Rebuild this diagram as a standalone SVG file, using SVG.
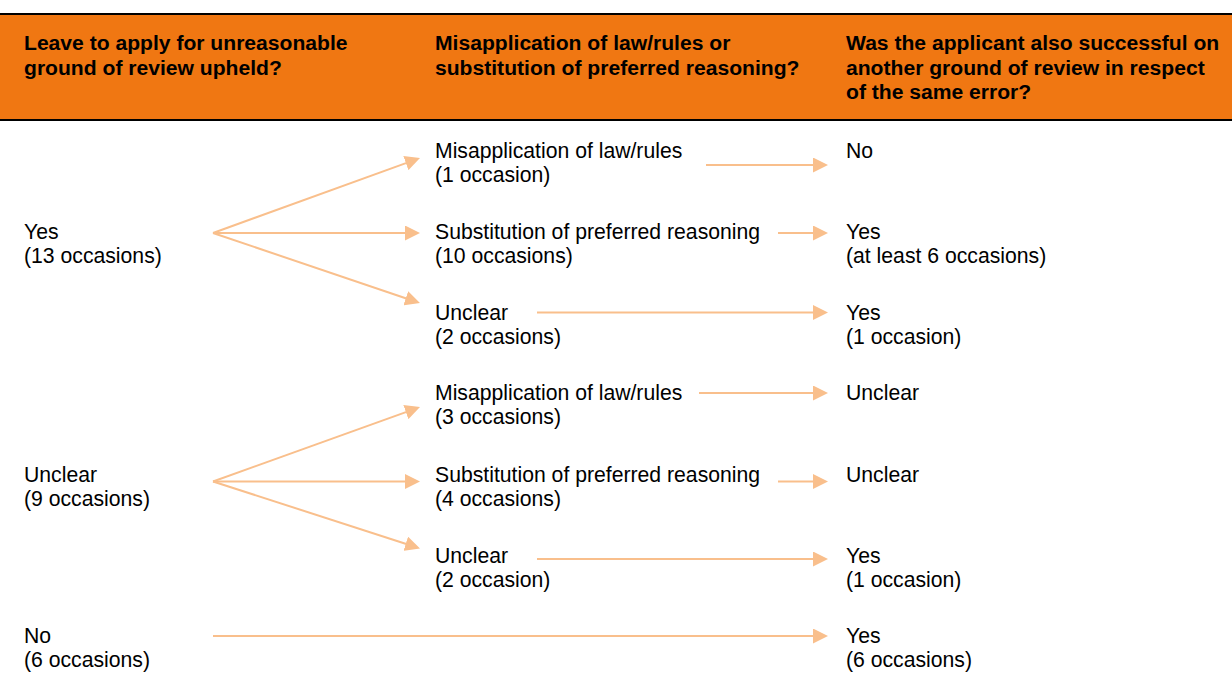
<svg xmlns="http://www.w3.org/2000/svg" width="1232" height="681" viewBox="0 0 1232 681">
  <style>
    .hdr { font-family: "Liberation Sans", Arial, sans-serif; font-size: 21.1px; font-weight: bold; fill: #000; }
    .lbl { font-family: "Liberation Sans", Arial, sans-serif; font-size: 21.2px; fill: #000; }
    .link { stroke: #F9BF8C; stroke-width: 2; fill: none; marker-end: url(#arrow); }
  </style>
  <defs>
    <marker id="arrow" markerUnits="userSpaceOnUse" viewBox="0 0 15 15" markerWidth="15" markerHeight="15" refX="3" refY="7.5" orient="auto">
      <path d="M0,0 L15,7.5 L0,15 z" fill="#F9BF8C"/>
    </marker>
  </defs>

  <rect width="1232" height="681" fill="#fff"/>

  <!-- header band -->
  <g id="header">
    <rect x="0" y="14" width="1232" height="106" fill="#F07712"/>
    <line x1="0" y1="14" x2="1232" y2="14" stroke="#000" stroke-width="2"/>
    <line x1="0" y1="120" x2="1232" y2="120" stroke="#000" stroke-width="2"/>
    <text class="hdr" x="24" y="50">Leave to apply for unreasonable</text>
    <text class="hdr" x="24" y="74.5">ground of review upheld?</text>
    <text class="hdr" x="435" y="50">Misapplication of law/rules or</text>
    <text class="hdr" x="435" y="74.5">substitution of preferred reasoning?</text>
    <text class="hdr" x="846" y="50">Was the applicant also successful on</text>
    <text class="hdr" x="846" y="74.5">another ground of review in respect</text>
    <text class="hdr" x="846" y="99">of the same error?</text>
  </g>

  <!-- column 1 -->
  <g id="leave-yes"><text class="lbl" x="24" y="239">Yes</text><text class="lbl" x="24" y="263">(13 occasions)</text></g>
  <g id="leave-unclear"><text class="lbl" x="24" y="481.5">Unclear</text><text class="lbl" x="24" y="505.5">(9 occasions)</text></g>
  <g id="leave-no"><text class="lbl" x="24" y="643">No</text><text class="lbl" x="24" y="667">(6 occasions)</text></g>

  <!-- column 2 -->
  <g id="yes-misapp"><text class="lbl" x="435" y="158">Misapplication of law/rules</text><text class="lbl" x="435" y="182">(1 occasion)</text></g>
  <g id="yes-subst"><text class="lbl" x="435" y="239">Substitution of preferred reasoning</text><text class="lbl" x="435" y="263">(10 occasions)</text></g>
  <g id="yes-unclear"><text class="lbl" x="435" y="320">Unclear</text><text class="lbl" x="435" y="344">(2 occasions)</text></g>
  <g id="unc-misapp"><text class="lbl" x="435" y="400">Misapplication of law/rules</text><text class="lbl" x="435" y="424">(3 occasions)</text></g>
  <g id="unc-subst"><text class="lbl" x="435" y="481.5">Substitution of preferred reasoning</text><text class="lbl" x="435" y="505.5">(4 occasions)</text></g>
  <g id="unc-unclear"><text class="lbl" x="435" y="562.5">Unclear</text><text class="lbl" x="435" y="586.5">(2 occasion)</text></g>

  <!-- column 3 -->
  <g id="out-1"><text class="lbl" x="846" y="158">No</text></g>
  <g id="out-2"><text class="lbl" x="846" y="239">Yes</text><text class="lbl" x="846" y="263">(at least 6 occasions)</text></g>
  <g id="out-3"><text class="lbl" x="846" y="320">Yes</text><text class="lbl" x="846" y="344">(1 occasion)</text></g>
  <g id="out-4"><text class="lbl" x="846" y="400">Unclear</text></g>
  <g id="out-5"><text class="lbl" x="846" y="481.5">Unclear</text></g>
  <g id="out-6"><text class="lbl" x="846" y="562.5">Yes</text><text class="lbl" x="846" y="586.5">(1 occasion)</text></g>
  <g id="out-7"><text class="lbl" x="846" y="643">Yes</text><text class="lbl" x="846" y="667">(6 occasions)</text></g>

  <!-- connectors -->
  <g id="connectors">
    <line class="link" x1="213" y1="233" x2="408.7" y2="162.1"/>
    <line class="link" x1="213" y1="233" x2="408" y2="233"/>
    <line class="link" x1="213" y1="233" x2="408.6" y2="299.2"/>
    <line class="link" x1="213" y1="481.5" x2="408.7" y2="411.1"/>
    <line class="link" x1="213" y1="481.5" x2="408" y2="481.5"/>
    <line class="link" x1="213" y1="481.5" x2="408.6" y2="544.7"/>
    <line class="link" x1="706" y1="165" x2="816" y2="165"/>
    <line class="link" x1="778" y1="233" x2="816" y2="233"/>
    <line class="link" x1="537" y1="312.5" x2="816" y2="312.5"/>
    <line class="link" x1="699" y1="393" x2="816" y2="393"/>
    <line class="link" x1="778" y1="481.5" x2="816" y2="481.5"/>
    <line class="link" x1="537" y1="559" x2="816" y2="559"/>
    <line class="link" x1="213" y1="636" x2="816" y2="636"/>
  </g>
</svg>
